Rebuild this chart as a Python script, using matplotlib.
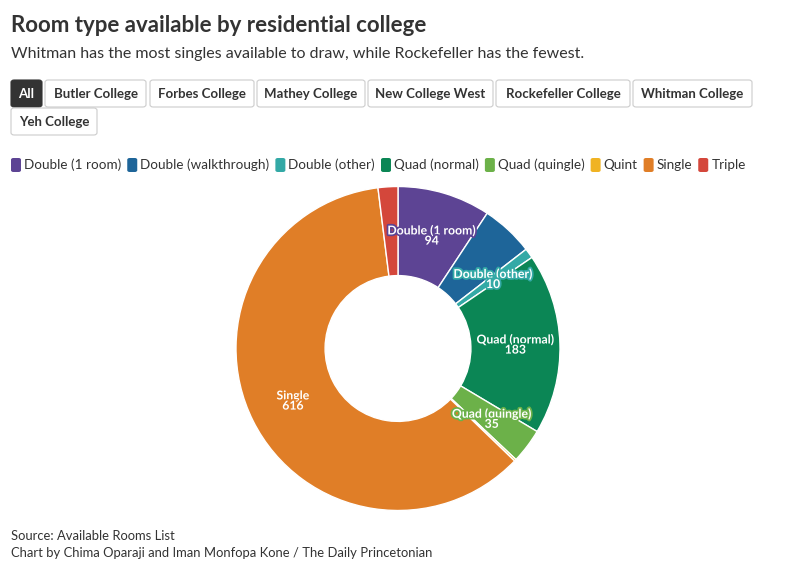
import matplotlib.pyplot as plt
import matplotlib.patheffects as pe
from matplotlib.patches import FancyBboxPatch
import numpy as np

plt.rcParams['font.family'] = ['Lato', 'DejaVu Sans']

room_types = ['Double (1 room)', 'Double (walkthrough)', 'Double (other)', 'Quad (normal)',
              'Quad (quingle)', 'Quint', 'Single', 'Triple']
counts = [94, 53, 10, 183, 35, 2, 616, 20]
colors = ['#5d4494', '#1e6599', '#33a9a6', '#0b8655', '#6cb149', '#f0b323', '#e07e27', '#d4473b']
labeled = ['Double (1 room)', 'Double (other)', 'Quad (normal)', 'Quad (quingle)', 'Single']

buttons = ['All', 'Butler College', 'Forbes College', 'Mathey College', 'New College West',
           'Rockefeller College', 'Whitman College', 'Yeh College']

W, H = 795, 575
fig = plt.figure(figsize=(W / 100, H / 100), dpi=100)
fig.patch.set_facecolor('white')


def fx(x):
    return x / W


def fy(y):
    return 1 - y / H


fig.text(fx(11), fy(25), 'Room type available by residential college', fontsize=16, fontweight='bold',
         color='#333333', va='center', ha='left')
fig.text(fx(11), fy(54), 'Whitman has the most singles available to draw, while Rockefeller has the fewest.',
         fontsize=11.5, color='#333333', va='center', ha='left')

# filter buttons
btn_boxes = [(11, 80, 31, 27), (45, 80, 101, 27), (150, 80, 104, 27), (257, 80, 108, 27),
             (368, 80, 125, 27), (496, 80, 134, 27), (633, 80, 119, 27), (11, 108, 86, 27)]
for name, (bx, by, bw, bh) in zip(buttons, btn_boxes):
    active = name == 'All'
    box = FancyBboxPatch((fx(bx), fy(by + bh)), bw / W, bh / H,
                         boxstyle='round,pad=0,rounding_size=0.004',
                         transform=fig.transFigure, facecolor='#333333' if active else 'white',
                         edgecolor='#333333' if active else '#cccccc', linewidth=0.8)
    fig.patches.append(box)
    fig.text(fx(bx + bw / 2), fy(by + bh / 2), name, fontsize=9.5, fontweight='bold',
             color='white' if active else '#333333', ha='center', va='center')

# legend
lx = 11
for name, c in zip(room_types, colors):
    sq = FancyBboxPatch((fx(lx), fy(172)), 10 / W, 14 / H, boxstyle='round,pad=0,rounding_size=0.003',
                        transform=fig.transFigure, facecolor=c, edgecolor='none')
    fig.patches.append(sq)
    t = fig.text(fx(lx + 13), fy(165), name, fontsize=9.7, color='#333333', ha='left', va='center')
    fig.canvas.draw()
    bb = t.get_window_extent()
    lx = lx + 13 + bb.width + 6

# donut
cx, cy, r = 398, 348.5, 162
ax = fig.add_axes([fx(cx - r), fy(cy + r), 2 * r / W, 2 * r / H])
wedges, _ = ax.pie(counts, colors=colors, startangle=90, counterclock=False, radius=1,
                   wedgeprops=dict(width=0.55, edgecolor='white', linewidth=1))
ax.set_xlim(-1, 1)
ax.set_ylim(-1, 1)
ax.set_aspect('equal')
ax.axis('off')

total = sum(counts)
cum = 0
for name, v, c in zip(room_types, counts, colors):
    mid = (cum + v / 2) / total * 2 * np.pi
    cum += v
    if name not in labeled:
        continue
    x = 0.725 * np.sin(mid)
    y = 0.725 * np.cos(mid)
    ax.text(x, y, f'{name}\n{v}', ha='center', va='center', fontsize=8.8, fontweight='bold',
            color='white', linespacing=0.9,
            path_effects=[pe.withStroke(linewidth=2.5, foreground=c)])

fig.text(fx(11), fy(536), 'Source: Available Rooms List', fontsize=9.4, color='#333333', va='center')
fig.text(fx(11), fy(553), 'Chart by Chima Oparaji and Iman Monfopa Kone / The Daily Princetonian',
         fontsize=9.4, color='#333333', va='center')

fig.savefig('out.png', dpi=100)
